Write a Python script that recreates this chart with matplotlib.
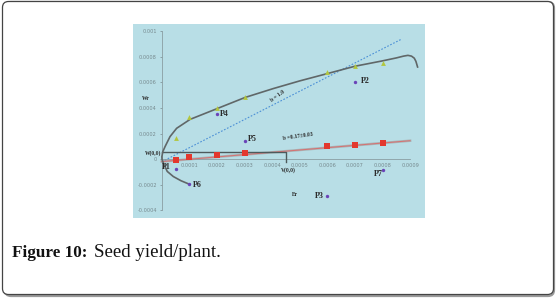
import matplotlib
matplotlib.use("Agg")
from matplotlib import pyplot as plt
from matplotlib.patches import FancyBboxPatch
from matplotlib.transforms import IdentityTransform

# green triangles (Wr values)
tri_x = [0.00005, 0.0001, 0.0002, 0.0003, 0.0006, 0.0007, 0.0008]
tri_y = [0.00017, 0.00033, 0.0004, 0.00049, 0.00068, 0.00073, 0.00075]

# red squares (regression points)
sq_x = [0.00005, 0.0001, 0.0002, 0.0003, 0.0006, 0.0007, 0.0008]
sq_y = [-0.000005, 0.00002, 0.00003, 0.000047, 0.000104, 0.000114, 0.000125]

# parents
p_names = ["P1", "P2", "P3", "P4", "P5", "P6", "P7"]
p_x = [0.00005, 0.0007, 0.0006, 0.0002, 0.0003, 0.0001, 0.0008]
p_y = [-0.000075, 0.000605, -0.000286, 0.000353, 0.000145, -0.000195, -0.000083]

# limiting parabola
curve_x = [0.0001, 0.00007, 0.000042, 0.00002, 0.000006, 0.000001, 0.0000005, 0.000004,
           0.000012, 0.00003, 0.000054, 0.000103, 0.000202, 0.000302, 0.000405,
           0.000501, 0.000601, 0.0007, 0.0008, 0.00085, 0.000876, 0.000892, 0.000905,
           0.000915, 0.000921, 0.000927]
curve_y = [-0.000195, -0.000168, -0.000135, -0.000095, -0.000031, 0.0, 0.00002, 0.00006,
           0.0000987, 0.000177, 0.000242, 0.000312, 0.000397, 0.000483, 0.000553,
           0.000613, 0.00067, 0.000727, 0.000769, 0.000792, 0.000806, 0.000812, 0.000806,
           0.00079, 0.000765, 0.000721]

# b = 1.0 reference line and regression line ends
unit_x = [0.0, 0.00087]
unit_y = [-0.00002, 0.00094]
reg_x = [0.0, 0.0009]
reg_y = [-0.000018, 0.000145]

# W(0,0) / V(0,0) guide
guide_x = [0.0, 0.00045, 0.00045]
guide_y = [0.000055, 0.000055, -0.000018]

y_ticks = [0.001, 0.0008, 0.0006, 0.0004, 0.0002, 0, -0.0002, -0.0004]
y_labels = ["0.001", "0.0008", "0.0006", "0.0004", "0.0002", "0", "-0.0002", "-0.0004"]
x_ticks = [0.0001, 0.0002, 0.0003, 0.0004, 0.0005, 0.0006, 0.0007, 0.0008, 0.0009]
x_labels = ["0.0001", "0.0002", "0.0003", "0.0004", "0.0005", "0.0006", "0.0007", "0.0008", "0.0009"]

fig = plt.figure(figsize=(5.58, 2.99), dpi=100)
fig.patch.set_facecolor("white")

# rounded frame round the figure block (behind the axes)
shadow = FancyBboxPatch((5, 3), 549, 294, boxstyle="round,pad=0,rounding_size=6",
                        transform=IdentityTransform(), facecolor="none",
                        edgecolor="#9a9a9a", linewidth=1.6, zorder=-2)
frame = FancyBboxPatch((2.5, 4.5), 551, 293, boxstyle="round,pad=0,rounding_size=6",
                       transform=IdentityTransform(), facecolor="white",
                       edgecolor="#444444", linewidth=0.9, zorder=-1)
fig.patches.extend([shadow, frame])

ax = fig.add_axes([0.2384, 0.2709, 0.5233, 0.6488])
ax.set_zorder(1)
ax.set_facecolor("#b8dee6")
ax.set_xlim(-0.000104, 0.000954)
ax.set_ylim(-0.000459, 0.001057)
for s in ["top", "right"]:
    ax.spines[s].set_visible(False)
ax.spines["left"].set_position(("data", 0))
ax.spines["bottom"].set_position(("data", 0))
ax.spines["left"].set_bounds(-0.0004, 0.001)
ax.spines["bottom"].set_bounds(0, 0.0009)
ax.spines["left"].set_color("#8a9ea3")
ax.spines["bottom"].set_color("#8a9ea3")
ax.spines["left"].set_linewidth(0.6)
ax.spines["bottom"].set_linewidth(0.6)
ax.set_yticks(y_ticks)
ax.set_yticklabels(y_labels)
ax.set_xticks(x_ticks)
ax.set_xticklabels(x_labels)
ax.tick_params(axis="both", labelsize=3.6, colors="#76898e", length=1.5, width=0.5, pad=2)
ax.tick_params(axis="x", length=0, pad=2.5)

ax.plot(reg_x, reg_y, color="#a9b3b5", linewidth=1.8, zorder=2)
ax.plot(reg_x, reg_y, color="#d87070", linewidth=0.7, zorder=3)
ax.plot(unit_x, unit_y, color="#4b8fd6", linewidth=0.8, linestyle=(0, (1.5, 1.5)), zorder=2)
ax.plot(guide_x, guide_y, color="#4d5a5c", linewidth=1.0, zorder=3)
ax.plot(curve_x, curve_y, color="#606768", linewidth=1.2, zorder=3)

ax.scatter(tri_x, tri_y, marker="^", s=12, color="#b2c63e", zorder=4, linewidths=0)
ax.scatter(sq_x, sq_y, marker="s", s=15, color="#e3382e", zorder=4, linewidths=0)
ax.scatter(p_x, p_y, marker="o", s=6, color="#6a44b8", zorder=5, linewidths=0)

tf = dict(family="Liberation Serif", fontweight="bold", color="#2b2b2b", fontsize=5.8)
offsets = {"P1": (-0.000033, 0.000012, "center"), "P2": (0.00002, 0.00001, "left"),
           "P3": (-0.000012, 0.0, "right"), "P4": (0.000012, -0.000003, "left"),
           "P5": (0.000012, 0.000012, "left"), "P6": (0.000012, -0.000008, "left"),
           "P7": (-0.000015, -0.000035, "center")}
for n, x, y in zip(p_names, p_x, p_y):
    dx, dy, ha = offsets[n]
    ax.text(x + dx, y + dy, n, ha=ha, va="center", **tf)

small = dict(family="Liberation Serif", fontweight="bold", color="#2b2b2b", fontsize=4.0)
ax.text(-0.000057, 0.000473, "Wr", ha="center", va="center", **small)
ax.text(0.000482, -0.000273, "Er", ha="center", va="center", **small)
ax.text(-0.000003, 0.000052, "W(0,0)", ha="right", va="center", **small)
ax.text(0.000458, -0.000082, "V(0,0)", ha="center", va="center", **small)
ax.text(0.00042, 0.000495, "b = 1.0", ha="center", va="center", rotation=36, **small)
ax.text(0.000495, 0.000175, "b =0.17\u00b10.03", ha="center", va="center", rotation=8, **small)

# caption: bold label, then the normal text right after it
cap_y = 1 - 257 / 299
t1 = fig.text(12 / 558, cap_y, "Figure 10:", family="Liberation Serif", fontweight="bold",
              fontsize=12.3, va="baseline", ha="left", color="#111111")
r = fig.canvas.get_renderer()
bb = t1.get_window_extent(renderer=r)
fig.text((bb.x1 + 7) / 558, cap_y, "Seed yield/plant.", family="Liberation Serif",
         fontsize=13.6, va="baseline", ha="left", color="#111111")

fig.savefig("out.png", dpi=100)
